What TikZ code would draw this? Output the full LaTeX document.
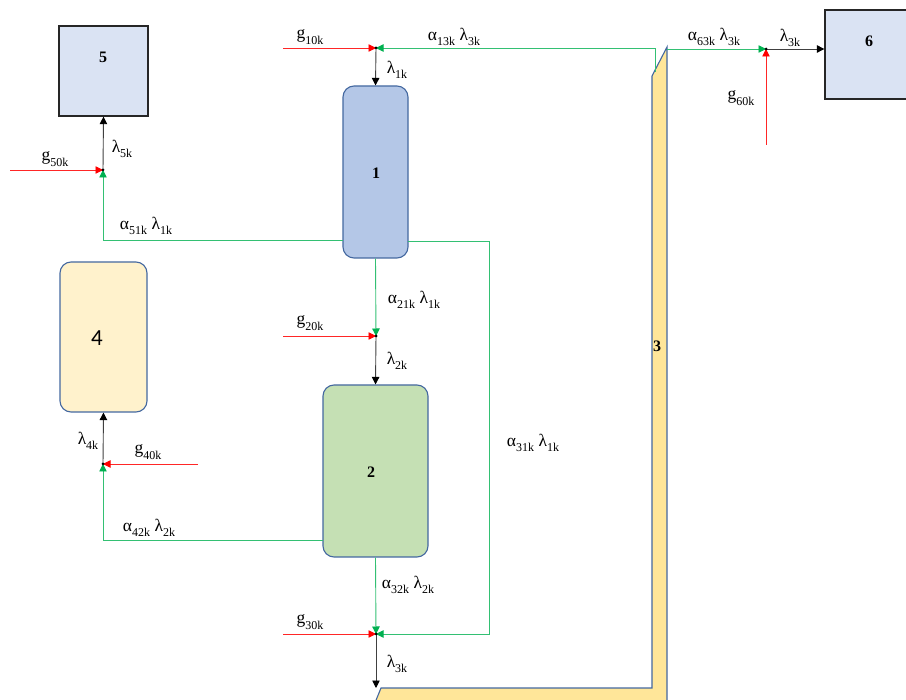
\documentclass[tikz,border=0pt]{standalone}
\usepackage{fontspec}
\setmainfont{Liberation Serif}
\newfontfamily\calib{Carlito}
\usetikzlibrary{arrows.meta}
\definecolor{gline}{RGB}{0,176,80}
\definecolor{rline}{RGB}{255,0,0}
\definecolor{boxfill}{RGB}{218,227,243}
\definecolor{onefill}{RGB}{180,199,231}
\definecolor{twofill}{RGB}{197,224,180}
\definecolor{fourfill}{RGB}{255,242,204}
\definecolor{threefill}{RGB}{255,230,153}
\definecolor{bluedge}{RGB}{68,104,160}
\newcommand{\sbx}[1]{\raisebox{-0.3em}{\fontsize{12}{12}\selectfont #1}}
\begin{document}
\begin{tikzpicture}[x=1pt,y=-1pt,
  sqbox/.style={draw=black!85,line width=1.3pt,fill=boxfill,inner sep=0},
  rbox/.style={draw=bluedge,line width=1.1pt,rounded corners=11pt,inner sep=0},
  lbl/.style={inner sep=0,font=\fontsize{17.5}{19}\selectfont},
  num/.style={inner sep=0,font=\fontsize{16}{18}\selectfont\bfseries},
  gl/.style={draw=gline!80,line width=0.9pt},
  rl/.style={draw=rline!85,line width=0.9pt},
  bl/.style={draw=black!75,line width=0.9pt},
  gtip/.style={-{Triangle[length=7.5pt,width=7.5pt,color=gline]}},
  rtip/.style={-{Triangle[length=7.5pt,width=7.5pt,color=rline]}},
  btip/.style={-{Triangle[length=7.5pt,width=7.5pt,color=black]}},
  jdot/.style={circle,fill=black,inner sep=0,minimum size=3pt}
]
\clip (0,0) rectangle (906,700);
\useasboundingbox (0,0) rectangle (906,700);

% shape 3
\draw[draw=bluedge,line width=1.1pt,fill=threefill,line join=miter]
  (652,76) -- (667,47) -- (667,715) -- (370,715) -- (381,688) -- (652,688) -- cycle;
\node[num] (l3) at (657,346) {3};

% boxes
\node[sqbox,minimum width=89pt,minimum height=90pt] (n5) at (103.5,71) {};
\node[num] (l5) at (103,57) {5};
\node[sqbox,minimum width=90pt,minimum height=89pt] (n6) at (870,54.5) {};
\node[num] (l6) at (869,41) {6};
\node[rbox,fill=onefill,minimum width=65pt,minimum height=172pt] (n1) at (375.5,172) {};
\node[num] (l1) at (376,173) {1};
\node[rbox,fill=twofill,minimum width=105pt,minimum height=172pt] (n2) at (375.5,471) {};
\node[num] (l2) at (371,472) {2};
\node[rbox,fill=fourfill,minimum width=87pt,minimum height=150pt] (n4) at (103.5,337) {};
\node[inner sep=0,font=\calib\fontsize{23}{25}\selectfont] (l4) at (97,338) {4};

% junctions
\coordinate (J1) at (376,48);
\coordinate (J2) at (376,336);
\coordinate (J3) at (376,634);
\coordinate (J4) at (103,464);
\coordinate (J5) at (103,170);
\coordinate (J6) at (766,49);

% auxiliary coordinates
\coordinate (s3a) at (655,72);
\coordinate (s3b) at (667,49);
\coordinate (n1l) at (343,240);
\coordinate (n1r) at (408,241);
\coordinate (c31) at (489,634);
\coordinate (n2l) at (323,540);
\coordinate (s3top) at (376,688);
\coordinate (r1) at (283,48);
\coordinate (r2) at (283,336);
\coordinate (r3) at (283,634);
\coordinate (r4) at (198,464);
\coordinate (r5) at (10,170);
\coordinate (r6) at (766,145);

% green flows
\draw[gl,gtip] (s3a) |- (J1);
\draw[gl,gtip] (s3b) -- (J6);
\draw[gl,gtip] (n1l) -| (J5);
\draw[gl,gtip] (n1r) -| (c31) -- (J3);
\draw[gl,gtip] (n1.south) -- (J2);
\draw[gl,gtip] (n2.south) -- (J3);
\draw[gl,gtip] (n2l) -| (J4);

% red flows
\draw[rl,rtip] (r1) -- (J1);
\draw[rl,rtip] (r2) -- (J2);
\draw[rl,rtip] (r3) -- (J3);
\draw[rl,rtip] (r4) -- (J4);
\draw[rl,rtip] (r5) -- (J5);
\draw[rl,rtip] (r6) -- (J6);

% black flows
\draw[bl,btip] (J1) -- (n1.north);
\draw[bl,btip] (J2) -- (n2.north);
\draw[bl,btip] (J3) -- (s3top);
\draw[bl,btip] (J4) -- (n4.south);
\draw[bl,btip] (J5) -- (n5.south);
\draw[bl,btip] (J6) -- (J6 -| n6.west);

\foreach \j in {J1,J2,J3,J4,J5,J6} \node[jdot] at (\j) {};

% labels
\node[lbl] (tg10) at (310,37) {g\sbx{10k}};
\node[lbl] (ta13) at (454,37) {α\sbx{13k} λ\sbx{3k}};
\node[lbl] (tl1) at (397,70) {λ\sbx{1k}};
\node[lbl] (tg50) at (55,159) {g\sbx{50k}};
\node[lbl] (tl5) at (122,149) {λ\sbx{5k}};
\node[lbl] (ta51) at (146,226) {α\sbx{51k} λ\sbx{1k}};
\node[lbl] (ta21) at (414,300) {α\sbx{21k} λ\sbx{1k}};
\node[lbl] (tg20) at (310,323) {g\sbx{20k}};
\node[lbl] (tl2) at (397,361) {λ\sbx{2k}};
\node[lbl] (tl4) at (88,441) {λ\sbx{4k}};
\node[lbl] (tg40) at (148,452) {g\sbx{40k}};
\node[lbl] (ta42) at (149,528) {α\sbx{42k} λ\sbx{2k}};
\node[lbl] (ta32) at (408,585) {α\sbx{32k} λ\sbx{2k}};
\node[lbl] (tg30) at (310,622) {g\sbx{30k}};
\node[lbl] (tl3) at (397,664) {λ\sbx{3k}};
\node[lbl] (ta31) at (533,443) {α\sbx{31k} λ\sbx{1k}};
\node[lbl] (ta63) at (714,37) {α\sbx{63k} λ\sbx{3k}};
\node[lbl] (tl3b) at (790,38) {λ\sbx{3k}};
\node[lbl] (tg60) at (741,98) {g\sbx{60k}};
\end{tikzpicture}
\end{document}
